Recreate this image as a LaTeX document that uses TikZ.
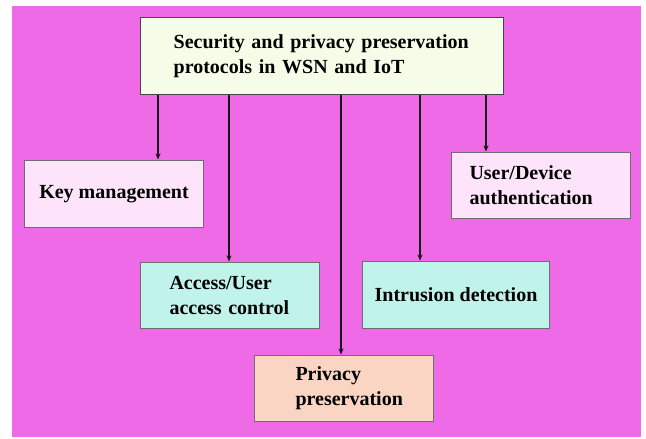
\documentclass[tikz,border=0pt]{standalone}
\usepackage{fontspec}
\setmainfont{Liberation Serif}
\usetikzlibrary{arrows.meta}
\definecolor{bgpink}{RGB}{238,106,230}
\definecolor{titlefill}{RGB}{245,253,232}
\definecolor{pinkfill}{RGB}{253,228,250}
\definecolor{cyanfill}{RGB}{192,243,234}
\definecolor{peachfill}{RGB}{250,213,196}
\definecolor{edge}{RGB}{110,110,110}
\tikzset{
  box/.style={draw=edge, line width=1pt, rectangle, anchor=north west,
    font=\fontsize{20}{25}\selectfont\bfseries, inner ysep=0pt},
  arr/.style={line width=1.7pt, draw={rgb,255:red,25;green,20;blue,25},
    -{Stealth[length=6pt,width=5pt]}, shorten >=0.5pt}
}
\begin{document}
\begin{tikzpicture}[x=1pt,y=-1pt]
\useasboundingbox (0,0) rectangle (646,439);
\fill[bgpink] (12,6) rectangle (641,437);

% root
\node[box, fill=titlefill, draw={rgb,255:red,70;green,70;blue,70}, line width=1.3pt,
  minimum width=363pt, minimum height=77pt, text width=297pt, inner xsep=33pt, align=left]
  (root) at (140,17) {Security and privacy preservation\\protocols in WSN and IoT};

% protocol families
\node[box, fill=pinkfill, minimum width=179pt, minimum height=67pt, align=center]
  (key) at (24,160) {Key management};
\node[box, fill=pinkfill, minimum width=179pt, minimum height=66pt,
  text width=143pt, inner xsep=18pt, align=left]
  (auth) at (451,152) {User/Device\\authentication};
\node[box, fill=cyanfill, minimum width=179pt, minimum height=66pt,
  text width=121pt, inner xsep=29pt, align=left]
  (access) at (140,262) {Access/User\\access control};
\node[box, fill=cyanfill, minimum width=187pt, minimum height=67pt, align=center]
  (ids) at (362,261) {Intrusion detection};
\node[box, fill=peachfill, minimum width=179pt, minimum height=66pt,
  text width=97pt, inner xsep=41pt, align=left]
  (priv) at (254,355) {Privacy\\preservation};

% connectors
\coordinate (xa) at (158,0);
\coordinate (xb) at (229,0);
\coordinate (xc) at (341,0);
\coordinate (xd) at (420,0);
\coordinate (xe) at (486,0);
\draw[arr] (root.south -| xa) -- (key.north -| xa);
\draw[arr] (root.south -| xb) -- (access.north -| xb);
\draw[arr] (root.south -| xc) -- (priv.north -| xc);
\draw[arr] (root.south -| xd) -- (ids.north -| xd);
\draw[arr] (root.south -| xe) -- (auth.north -| xe);
\end{tikzpicture}
\end{document}
